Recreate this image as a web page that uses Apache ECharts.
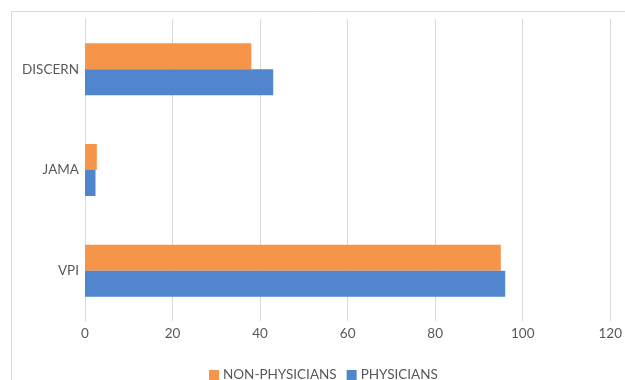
<!DOCTYPE html>
<html>
<head>
<meta charset="utf-8">
<script src="https://cdn.jsdelivr.net/npm/echarts@6/dist/echarts.min.js"></script>
<style>
  html, body { margin: 0; padding: 0; background: #ffffff; }
  #chart { width: 625px; height: 380px; }
</style>
</head>
<body>
<div id="chart"></div>
<script>
// Rating instruments, listed bottom to top
const categories = ['VPI', 'JAMA', 'DISCERN'];
const nonPhysicians = [95, 2.7, 38];
const physicians = [96, 2.4, 43];
const xTicks = { min: 0, max: 120, interval: 20 };

const FONT = 'Lato, "Open Sans", "Noto Sans", sans-serif';
const TEXT = '#595959';
const GRID = '#d9d9d9';

const chart = echarts.init(document.getElementById('chart'), null, { renderer: 'canvas' });

chart.setOption({
  animation: false,
  backgroundColor: '#ffffff',
  graphic: [{
    type: 'rect',
    shape: { x: 11.5, y: 11.5, width: 700, height: 500 },
    style: { fill: 'none', stroke: GRID, lineWidth: 1 },
    silent: true,
    z: -1
  }],
  grid: { left: 85, right: 12.4, top: 19, bottom: 59, containLabel: false },
  legend: {
    data: ['NON-PHYSICIANS', 'PHYSICIANS'],
    left: 204,
    top: 363,
    itemWidth: 10,
    itemHeight: 10,
    itemGap: 10,
    icon: 'rect',
    textStyle: { color: TEXT, fontSize: 13.5, fontFamily: FONT, padding: [0, 0, 0, -1] }
  },
  xAxis: {
    type: 'value',
    min: xTicks.min,
    max: xTicks.max,
    interval: xTicks.interval,
    axisLine: { show: false },
    axisTick: { show: false },
    axisLabel: { color: TEXT, fontSize: 13.5, fontFamily: FONT, margin: 6 },
    splitLine: { show: true, lineStyle: { color: GRID, width: 1 } }
  },
  yAxis: {
    type: 'category',
    data: categories,
    axisLine: { show: true, lineStyle: { color: GRID, width: 1 } },
    axisTick: { show: false },
    axisLabel: { color: TEXT, fontSize: 13.5, fontFamily: FONT, margin: 6 }
  },
  series: [
    {
      name: 'NON-PHYSICIANS',
      type: 'bar',
      data: nonPhysicians,
      barWidth: 26,
      barGap: '0%',
      itemStyle: { color: '#F6944A' }
    },
    {
      name: 'PHYSICIANS',
      type: 'bar',
      data: physicians,
      barWidth: 26,
      barGap: '0%',
      itemStyle: { color: '#5185CE' }
    }
  ]
});
</script>
</body>
</html>
